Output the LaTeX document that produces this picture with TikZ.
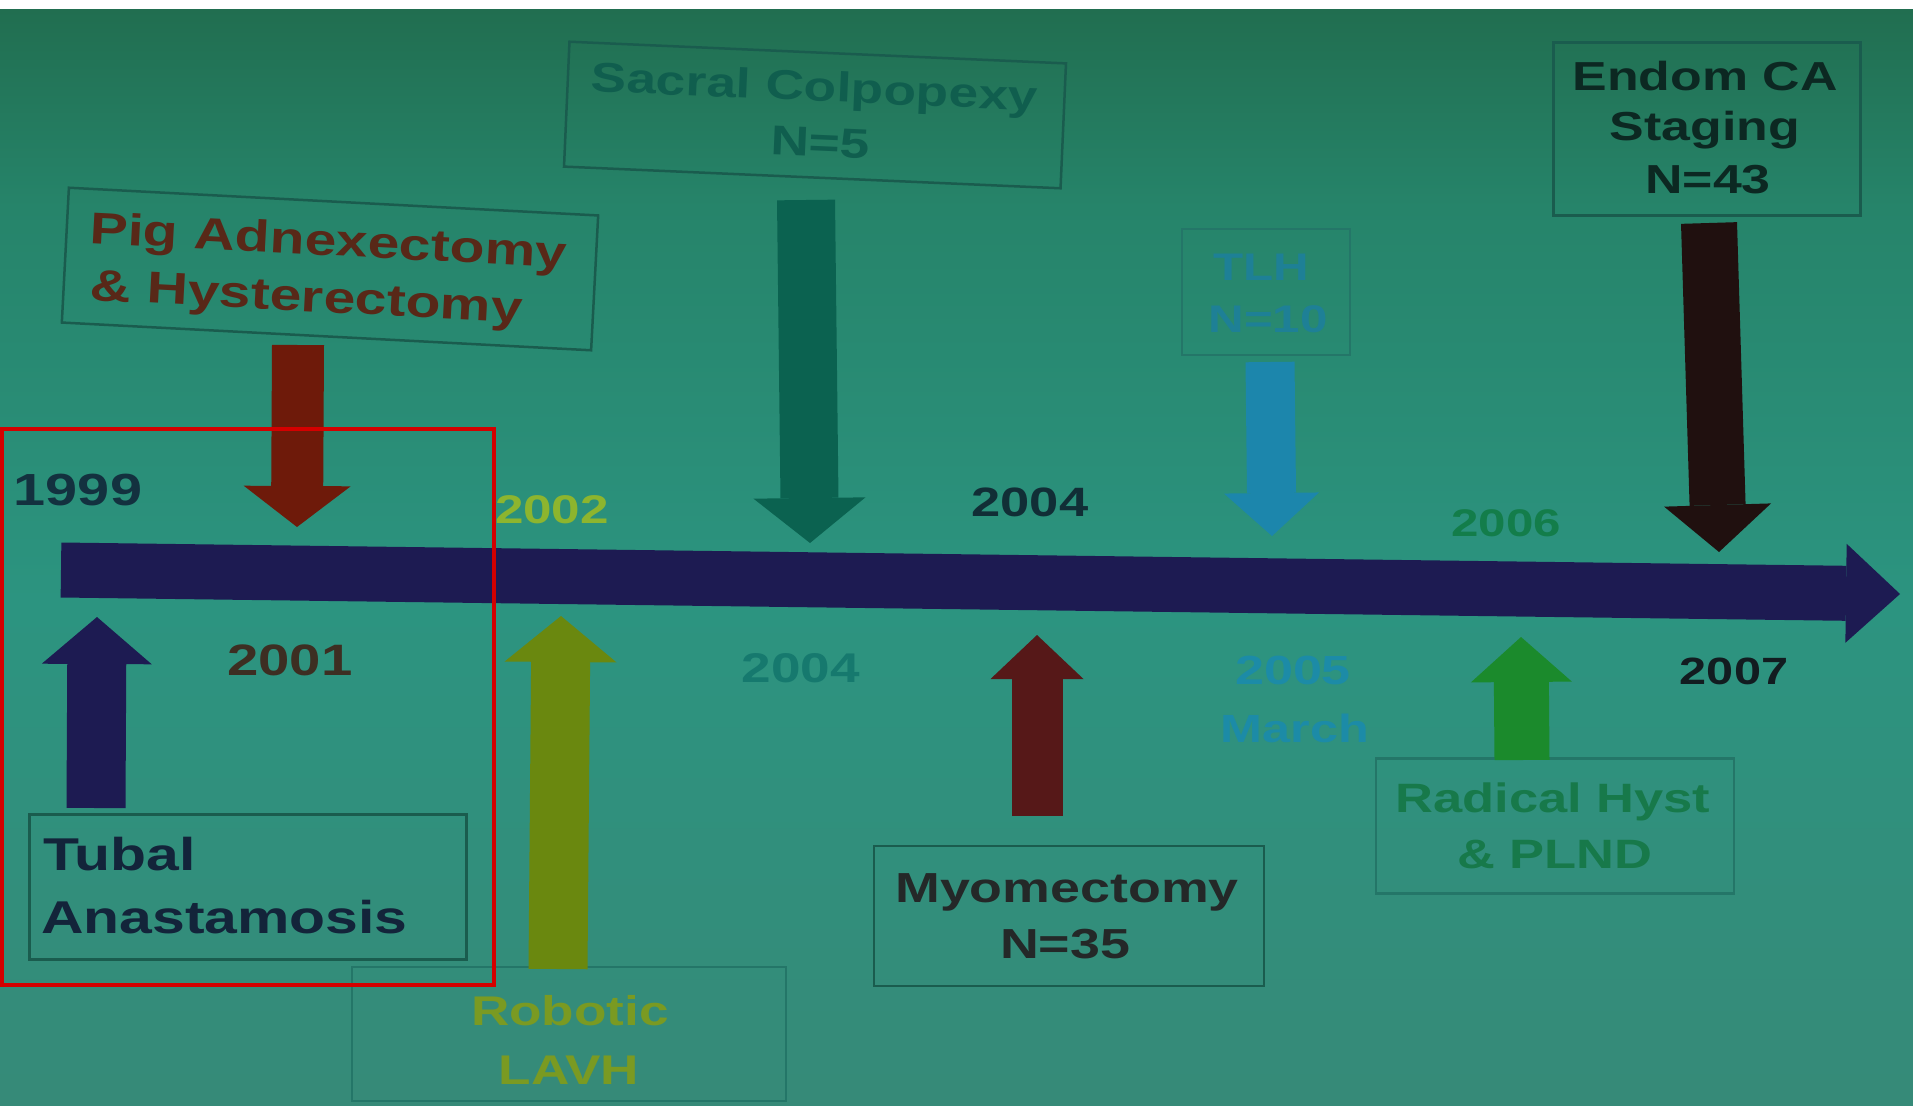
\documentclass[tikz,border=0pt]{standalone}
\usepackage{fontspec}
\setmainfont{Liberation Sans}[FakeStretch=1.28]
\usetikzlibrary{arrows.meta}
\definecolor{bgtop}{RGB}{33,110,80}
\definecolor{bgup}{RGB}{38,132,106}
\definecolor{bgmid}{RGB}{44,148,128}
\definecolor{bgbot}{RGB}{54,138,120}
\definecolor{boxc}{RGB}{26,92,78}
\definecolor{boxf}{RGB}{36,118,104}
\definecolor{navyc}{RGB}{29,27,82}
\definecolor{pigc}{RGB}{110,26,10}
\definecolor{pigt}{RGB}{88,40,24}
\definecolor{sacc}{RGB}{11,98,80}
\definecolor{sact}{RGB}{16,94,78}
\definecolor{tlhc}{RGB}{28,134,172}
\definecolor{tlht}{RGB}{30,128,150}
\definecolor{endc}{RGB}{32,16,15}
\definecolor{endt}{RGB}{12,40,34}
\definecolor{olivec}{RGB}{106,136,15}
\definecolor{robt}{RGB}{122,154,34}
\definecolor{maroonc}{RGB}{86,24,24}
\definecolor{myot}{RGB}{36,40,40}
\definecolor{greenc}{RGB}{27,138,44}
\definecolor{radt}{RGB}{23,121,74}
\definecolor{tubt}{RGB}{19,36,58}
\definecolor{yA}{RGB}{19,49,63}
\definecolor{yB}{RGB}{141,181,46}
\definecolor{yC}{RGB}{17,46,54}
\definecolor{yD}{RGB}{19,125,74}
\definecolor{yE}{RGB}{61,46,34}
\definecolor{yF}{RGB}{22,121,110}
\definecolor{yG}{RGB}{28,139,167}
\definecolor{yH}{RGB}{18,28,32}
\definecolor{redc}{RGB}{212,0,0}
\pgfdeclareverticalshading{bgsh}{100bp}{color(0bp)=(bgbot); color(25bp)=(bgbot); color(48bp)=(bgmid); color(66bp)=(bgup); color(75bp)=(bgtop); color(100bp)=(bgtop)}
\newcommand{\fz}[1]{\fontsize{#1}{#1}\selectfont\bfseries}
\begin{document}
\begin{tikzpicture}[x=1pt,y=-1pt,
  txt/.style={inner sep=0pt, anchor=base},
  boxs/.style={draw=boxc, line width=2.5pt, inner sep=0pt},
  ]
\useasboundingbox (0,0) rectangle (1913,1105);
\fill[white] (0,0) rectangle (1913,10);
\shade[shading=bgsh] (0,10) rectangle (1913,1105);

% timeline
\coordinate (tlS) at (61,570);
\coordinate (tlE) at (1900,594);
\draw[navyc, line width=55pt, -{Triangle[length=54pt,width=99pt,line width=0pt]}] (tlS) -- (tlE);

% boxes
\node[boxs, rotate=-3, minimum width=530pt, minimum height=135pt] (pig) at (330,269) {};
\node[boxs, rotate=-2.5, minimum width=497pt, minimum height=125pt] (sac) at (815,115) {};
\node[boxs, draw=boxf, minimum width=168pt, minimum height=126pt] (tlh) at (1266,292) {};
\node[boxs, minimum width=307pt, minimum height=173pt] (endom) at (1707,129) {};
\node[boxs, minimum width=437pt, minimum height=145pt] (tub) at (248,887) {};
\node[boxs, draw=boxf, minimum width=434pt, minimum height=134pt] (rob) at (569,1034) {};
\node[boxs, minimum width=390pt, minimum height=140pt] (myo) at (1069,916) {};
\node[boxs, draw=boxf, minimum width=358pt, minimum height=135pt] (rad) at (1555,826) {};

% box texts
\node[txt, anchor=base west, rotate=-3, text=pigt, font=\fz{44.5}] (pig1) at (89,243) {Pig Adnexectomy};
\node[txt, anchor=base west, rotate=-3, text=pigt, font=\fz{44.5}] (pig2) at (89,300) {\& Hysterectomy};
\node[txt, rotate=-2.5, text=sact, font=\fz{41.6}] (sac1) at (814,101) {Sacral Colpopexy};
\node[txt, rotate=-2.5, text=sact, font=\fz{41.6}] (sac2) at (820,157) {N=5};
\node[txt, text=tlht, font=\fz{38.5}] (tlh1) at (1261,280) {TLH};
\node[txt, text=tlht, font=\fz{38.5}] (tlh2) at (1268,332) {N=10};
\node[txt, text=endt, font=\fz{40.5}] (end1) at (1705,91) {Endom CA};
\node[txt, text=endt, font=\fz{40.5}] (end2) at (1705,141) {Staging};
\node[txt, text=endt, font=\fz{40.5}] (end3) at (1708,193) {N=43};
\node[txt, anchor=base west, text=tubt, font=\fz{46}] (tub1) at (43,870) {Tubal};
\node[txt, anchor=base west, text=tubt, font=\fz{46}] (tub2) at (41,933) {Anastamosis};
\node[txt, text=robt, font=\fz{41.5}] (rob1) at (570,1025) {Robotic};
\node[txt, text=robt, font=\fz{41.5}] (rob2) at (569,1084) {LAVH};
\node[txt, text=myot, font=\fz{42}] (myo1) at (1067,902) {Myomectomy};
\node[txt, text=myot, font=\fz{42}] (myo2) at (1065,958) {N=35};
\node[txt, text=radt, font=\fz{41}] (rad1) at (1553,812) {Radical Hyst};
\node[txt, text=radt, font=\fz{41}] (rad2) at (1555,868) {\& PLND};

% year labels
\node[txt, text=yA, font=\fz{45}] (y1999) at (78,505) {1999};
\node[txt, text=yB, font=\fz{40}] (y2002) at (552,523) {2002};
\node[txt, text=yC, font=\fz{41}] (y2004a) at (1030,516) {2004};
\node[txt, text=yD, font=\fz{38.5}] (y2006) at (1506,536) {2006};
\node[txt, text=yE, font=\fz{44}] (y2001) at (290,675) {2001};
\node[txt, text=yF, font=\fz{41.5}] (y2004b) at (801,682) {2004};
\node[txt, text=yG, font=\fz{40.7}] (y2005) at (1293,684) {2005};
\node[txt, text=yG, font=\fz{39.3}] (ymar) at (1295,742) {March};
\node[txt, text=yH, font=\fz{38}] (y2007) at (1734,684) {2007};

% event arrows
\coordinate (pigA) at (298,345);   \coordinate (pigB) at (297,527);
\coordinate (sacA) at (806,200);   \coordinate (sacB) at (810,543);
\coordinate (tlhA) at (1270,362);  \coordinate (tlhB) at (1272,536);
\coordinate (endA) at (1709,223);  \coordinate (endB) at (1719,552);
\coordinate (tubA) at (96,808);    \coordinate (tubB) at (97,617);
\coordinate (robA) at (558,969);   \coordinate (robB) at (561,616);
\coordinate (myoA) at (1037,816);  \coordinate (myoB) at (1037,635);
\coordinate (radA) at (1522,760);  \coordinate (radB) at (1521,637);
\draw[pigc, line width=52pt, -{Triangle[length=41pt,width=107pt,line width=0pt]}] (pigA) -- (pigB);
\draw[sacc, line width=58pt, -{Triangle[length=45pt,width=112pt,line width=0pt]}] (sacA) -- (sacB);
\draw[tlhc, line width=49pt, -{Triangle[length=43pt,width=95pt,line width=0pt]}] (tlhA) -- (tlhB);
\draw[endc, line width=56pt, -{Triangle[length=47pt,width=107pt,line width=0pt]}] (endA) -- (endB);
\draw[navyc, line width=59pt, -{Triangle[length=47pt,width=110pt,line width=0pt]}] (tubA) -- (tubB);
\draw[olivec, line width=59pt, -{Triangle[length=46pt,width=112pt,line width=0pt]}] (robA) -- (robB);
\draw[maroonc, line width=51pt, -{Triangle[length=44pt,width=93pt,line width=0pt]}] (myoA) -- (myoB);
\draw[greenc, line width=55pt, -{Triangle[length=45pt,width=101pt,line width=0pt]}] (radA) -- (radB);

% red highlight frame
\draw[redc, line width=4pt] (2,429) rectangle (494,985);
\end{tikzpicture}
\end{document}
